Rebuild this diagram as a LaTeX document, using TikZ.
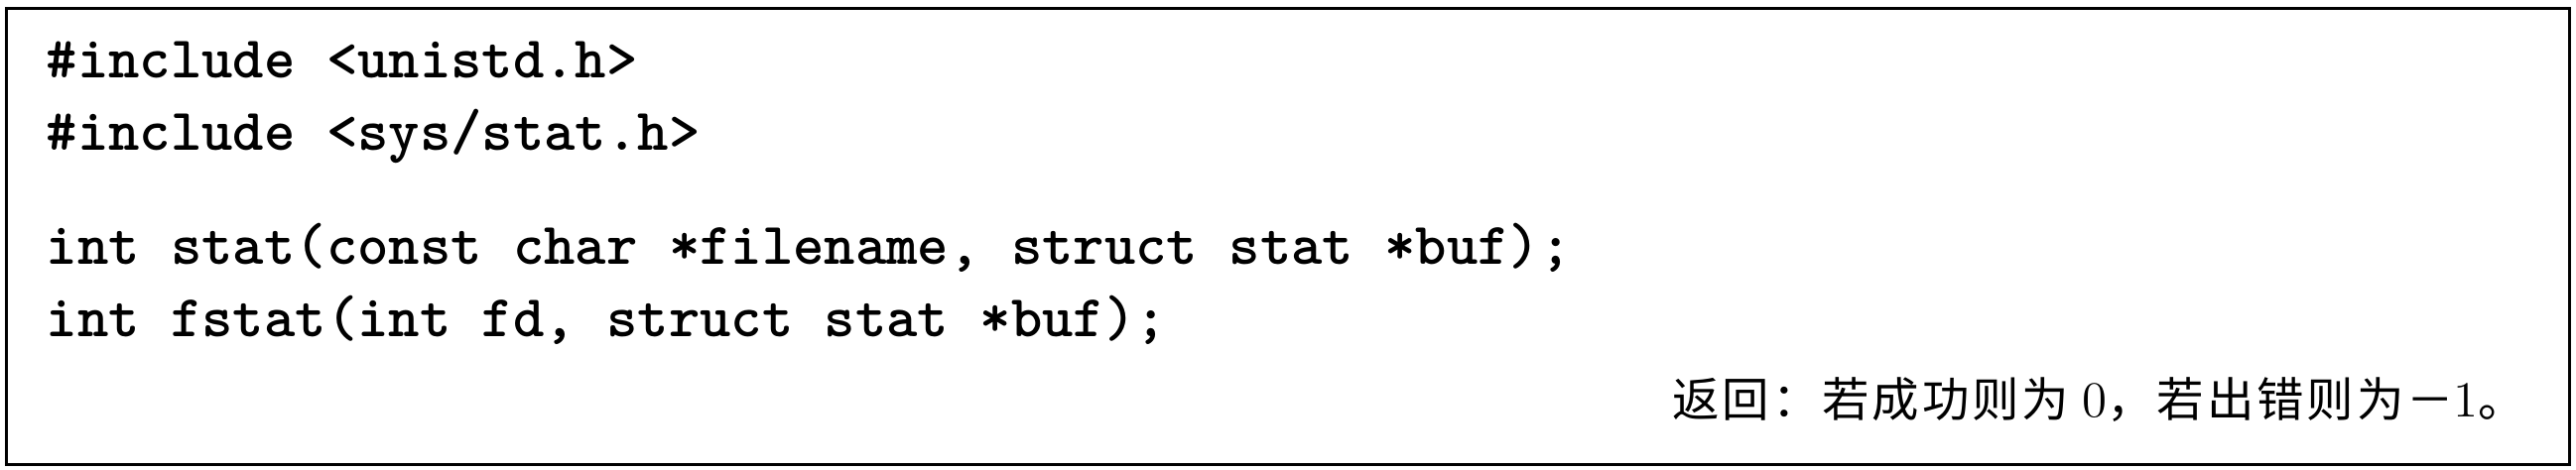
\documentclass[tikz,border=0pt]{standalone}
\usepackage{fontspec}
\newfontfamily\cjk{Noto Sans CJK SC}[LetterSpace=6]
\tikzset{
  codeline/.style={anchor=base west, inner sep=0pt, font=\fontsize{17}{19}\selectfont\ttfamily\bfseries},
  retline/.style={anchor=base east, inner sep=0pt, font=\fontsize{13.5}{15}\selectfont\cjk}
}

\begin{document}
\begin{tikzpicture}[x=0.1mm, y=-0.1mm]
	%%%%% START %%%%%
	\useasboundingbox (0, 0) rectangle (2596, 474);
	
	\draw[line width=0.3mm] (6, 9) rectangle (2589, 469);
	
	\node[codeline] (incA) at (46, 79) {\#include <unistd.h>};
	\node[codeline] (incB) at (46, 152) {\#include <sys/stat.h>};
	
	\node[codeline] (protoA) at (46, 267) {int stat(const char *filename, struct stat *buf);};
	\node[codeline] (protoB) at (46, 340) {int fstat(int fd, struct stat *buf);};
	
	\node[retline] (ret) at (2546, 421) {返回：若成功则为 {\rmfamily\fontsize{14.5}{15}\selectfont 0}，若出错则为－{\rmfamily\fontsize{14.5}{15}\selectfont 1}。};
	
	%%%%% END %%%%%
\end{tikzpicture}
\end{document}
